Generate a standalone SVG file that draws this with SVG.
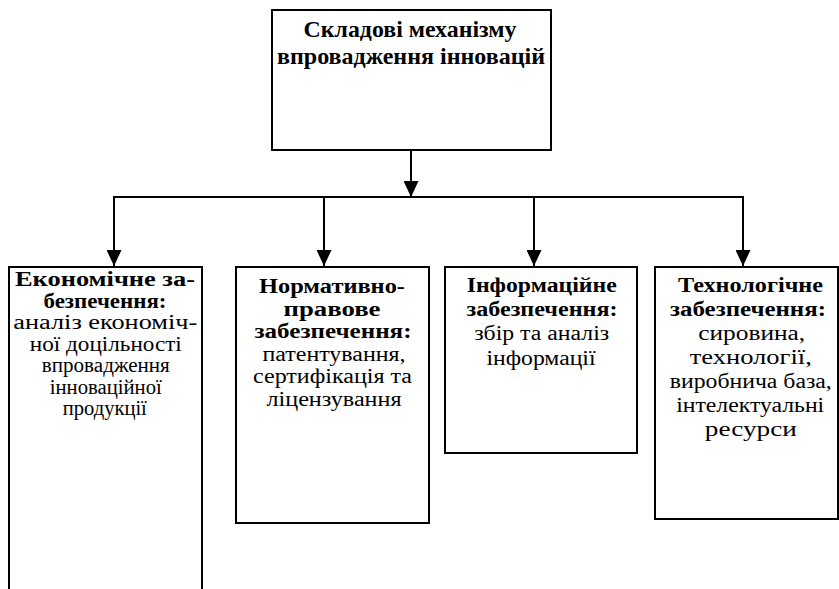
<svg xmlns="http://www.w3.org/2000/svg" width="839" height="589" viewBox="0 0 839 589">
<style>
.box{fill:#fff;stroke:#000;stroke-width:2}
.ln{fill:none;stroke:#000;stroke-width:2}
text{font-family:"Liberation Serif","Times New Roman",serif;fill:#000;text-anchor:middle}
.t{font-size:24px;font-weight:bold}
.b{font-size:20px;font-weight:bold}
.r{font-size:20px}
</style>
<defs>
<marker id="arr" viewBox="0 0 16 15" refX="16" refY="7.5" markerWidth="16" markerHeight="15" markerUnits="userSpaceOnUse" orient="auto">
<path d="M0,0 L16,7.5 L0,15 z" fill="#000"/>
</marker>
</defs>
<rect width="839" height="589" fill="#fff"/>
<g id="connectors">
<line class="ln" x1="411" y1="150" x2="411" y2="197" marker-end="url(#arr)"/>
<line class="ln" x1="113" y1="197" x2="744" y2="197"/>
<line class="ln" x1="114" y1="197" x2="114" y2="266" marker-end="url(#arr)"/>
<line class="ln" x1="324" y1="197" x2="324" y2="266" marker-end="url(#arr)"/>
<line class="ln" x1="534" y1="197" x2="534" y2="266" marker-end="url(#arr)"/>
<line class="ln" x1="743" y1="197" x2="743" y2="266" marker-end="url(#arr)"/>
</g>
<g id="node-top">
<rect class="box" x="272" y="10" width="279" height="140"/>
<text class="t" x="410" y="37" textLength="213" lengthAdjust="spacingAndGlyphs">Складові механізму</text>
<text class="t" x="411" y="64" textLength="268" lengthAdjust="spacingAndGlyphs">впровадження інновацій</text>
</g>
<g id="node-econ">
<rect class="box" x="9" y="267" width="193" height="340"/>
<text class="b" x="105" y="286" textLength="180" lengthAdjust="spacingAndGlyphs">Економічне за-</text>
<text class="b" x="105" y="307.5" textLength="123" lengthAdjust="spacingAndGlyphs">безпечення:</text>
<text class="r" x="105.3" y="329" textLength="184" lengthAdjust="spacingAndGlyphs">аналіз економіч-</text>
<text class="r" x="105.8" y="350.5" textLength="152" lengthAdjust="spacingAndGlyphs">ної доцільності</text>
<text class="r" x="105.8" y="372" textLength="128" lengthAdjust="spacingAndGlyphs">впровадження</text>
<text class="r" x="105.8" y="393.5" textLength="112" lengthAdjust="spacingAndGlyphs">інноваційної</text>
<text class="r" x="104.8" y="415" textLength="84" lengthAdjust="spacingAndGlyphs">продукції</text>
</g>
<g id="node-norm">
<rect class="box" x="236" y="267" width="193" height="256"/>
<text class="b" x="332" y="293" textLength="146" lengthAdjust="spacingAndGlyphs">Нормативно-</text>
<text class="b" x="332" y="315.6" textLength="97" lengthAdjust="spacingAndGlyphs">правове</text>
<text class="b" x="333" y="338.2" textLength="157" lengthAdjust="spacingAndGlyphs">забезпечення:</text>
<text class="r" x="334" y="360.8" textLength="143" lengthAdjust="spacingAndGlyphs">патентування,</text>
<text class="r" x="332.5" y="383.4" textLength="159" lengthAdjust="spacingAndGlyphs">сертифікація та</text>
<text class="r" x="334" y="406" textLength="135" lengthAdjust="spacingAndGlyphs">ліцензування</text>
</g>
<g id="node-info">
<rect class="box" x="445" y="267" width="192" height="186"/>
<text class="b" x="541.7" y="291.5" textLength="150" lengthAdjust="spacingAndGlyphs">Інформаційне</text>
<text class="b" x="542" y="315.5" textLength="151" lengthAdjust="spacingAndGlyphs">забезпечення:</text>
<text class="r" x="541.7" y="340" textLength="135" lengthAdjust="spacingAndGlyphs">збір та аналіз</text>
<text class="r" x="541" y="364.5" textLength="109" lengthAdjust="spacingAndGlyphs">інформації</text>
</g>
<g id="node-tech">
<rect class="box" x="655" y="267" width="183" height="252"/>
<text class="b" x="750.5" y="292" textLength="145" lengthAdjust="spacingAndGlyphs">Технологічне</text>
<text class="b" x="748" y="316" textLength="156" lengthAdjust="spacingAndGlyphs">забезпечення:</text>
<text class="r" x="751.7" y="340" textLength="107" lengthAdjust="spacingAndGlyphs">сировина,</text>
<text class="r" x="750.8" y="364" textLength="122" lengthAdjust="spacingAndGlyphs">технології,</text>
<text class="r" x="750.8" y="388" textLength="162" lengthAdjust="spacingAndGlyphs">виробнича база,</text>
<text class="r" x="750.2" y="412" textLength="148" lengthAdjust="spacingAndGlyphs">інтелектуальні</text>
<text class="r" x="750.8" y="436" textLength="92" lengthAdjust="spacingAndGlyphs">ресурси</text>
</g>
</svg>
